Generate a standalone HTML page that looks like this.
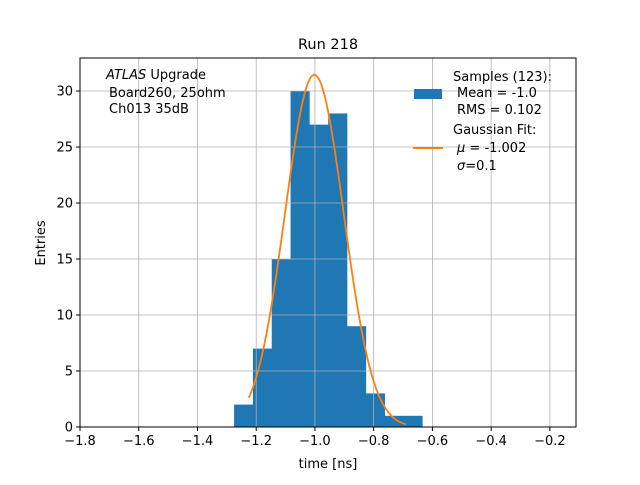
<!DOCTYPE html>
<html><head><meta charset="utf-8"><style>
body{margin:0;background:#fff;}
svg text{font-family:"DejaVu Sans","Liberation Sans",sans-serif;}
</style></head><body>
<svg id="chart" width="640" height="480" viewBox="0 0 640 480" xmlns="http://www.w3.org/2000/svg">
<rect width="640" height="480" fill="#fff"/>
<g id="bars"></g>
<g id="grid"></g>
<g id="fit"></g>
<rect x="80" y="58" width="496" height="369" fill="none" stroke="#000" stroke-width="1"/>
<g id="xticks"></g>
<g id="yticks"></g>
<text x="328" y="49" font-size="14.5" text-anchor="middle">Run 218</text>
<text x="328" y="468" font-size="13" text-anchor="middle">time [ns]</text>
<text transform="translate(45,243) rotate(-90)" font-size="13" text-anchor="middle">Entries</text>
<g font-size="13">
<text x="106" y="79"><tspan font-style="italic">ATLAS</tspan> Upgrade</text>
<text x="109" y="97">Board260, 25ohm</text>
<text x="109" y="113">Ch013 35dB</text>
</g>
<g font-size="13">
<rect x="414" y="89" width="28" height="10" fill="#1f77b4"/>
<text x="453" y="81">Samples (123):</text>
<text x="457" y="97">Mean = -1.0</text>
<text x="457" y="114">RMS = 0.102</text>
<line x1="413" y1="148" x2="443" y2="148" stroke="#ff7f0e" stroke-width="2"/>
<text x="453" y="134">Gaussian Fit:</text>
<text x="457" y="152"><tspan font-style="italic">μ</tspan> = -1.002</text>
<text x="457" y="170"><tspan font-style="italic">σ</tspan>=0.1</text>
</g>
</svg>
<script>
const binStart = -1.2753;
const binWidth = 0.0641;
const counts = [2, 7, 15, 30, 27, 28, 9, 3, 1, 1];
const xTicks = [-1.8, -1.6, -1.4, -1.2, -1.0, -0.8, -0.6, -0.4, -0.2];
const yTicks = [0, 5, 10, 15, 20, 25, 30];
const fitMean = -1.002;
const fitSigma = 0.1;
const fitAmp = 31.45;
const fitRange = [-1.225, -0.69];

const NS = 'http://www.w3.org/2000/svg';
const X0 = 80, X1 = 576, Y0 = 427, Y1 = 58;
const xMin = -1.8, xMax = -0.111, yMin = 0, yMax = 32.95;
const sx = v => X0 + (v - xMin) / (xMax - xMin) * (X1 - X0);
const sy = v => Y0 - (v - yMin) / (yMax - yMin) * (Y0 - Y1);
function mk(tag, attrs, parent) {
  const el = document.createElementNS(NS, tag);
  for (const k in attrs) el.setAttribute(k, attrs[k]);
  parent.appendChild(el);
  return el;
}
const bars = document.getElementById('bars');
counts.forEach((c, i) => {
  const a = binStart + i * binWidth, b = a + binWidth;
  const r = mk('rect', {x: sx(a), y: sy(c), width: sx(b) - sx(a) + 0.3, height: sy(0) - sy(c), fill: '#1f77b4'}, bars);
  
  
});
const grid = document.getElementById('grid');
const xt = document.getElementById('xticks');
xTicks.forEach(t => {
  const x = sx(t);
  const g = mk('line', {x1: x, x2: x, y1: Y1, y2: Y0, stroke: '#b0b0b0', 'stroke-width': 0.8}, grid);
  
  
  mk('line', {x1: x, x2: x, y1: Y0, y2: Y0 + 4, stroke: '#000'}, xt);
  const tx = mk('text', {x: x, y: Y0 + 18, 'font-size': 13, 'text-anchor': 'middle'}, xt);
  tx.textContent = (t < 0 ? '\u2212' : '') + Math.abs(t).toFixed(1);
  
  
});
const yt = document.getElementById('yticks');
yTicks.forEach(t => {
  const y = sy(t);
  const g = mk('line', {x1: X0, x2: X1, y1: y, y2: y, stroke: '#b0b0b0', 'stroke-width': 0.8}, grid);
  
  
  mk('line', {x1: X0 - 4, x2: X0, y1: y, y2: y, stroke: '#000'}, yt);
  const tx = mk('text', {x: X0 - 7, y: y + 4.5, 'font-size': 13, 'text-anchor': 'end'}, yt);
  tx.textContent = t;
  
  
});
const pts = [];
for (let k = 0; k <= 200; k++) {
  const x = fitRange[0] + (fitRange[1] - fitRange[0]) * k / 200;
  const y = fitAmp * Math.exp(-0.5 * Math.pow((x - fitMean) / fitSigma, 2));
  pts.push(sx(x).toFixed(2) + ',' + sy(y).toFixed(2));
}
const pl = mk('polyline', {points: pts.join(' '), fill: 'none', stroke: '#ff7f0e', 'stroke-width': 1.8}, document.getElementById('fit'));


</script>
</body></html>
